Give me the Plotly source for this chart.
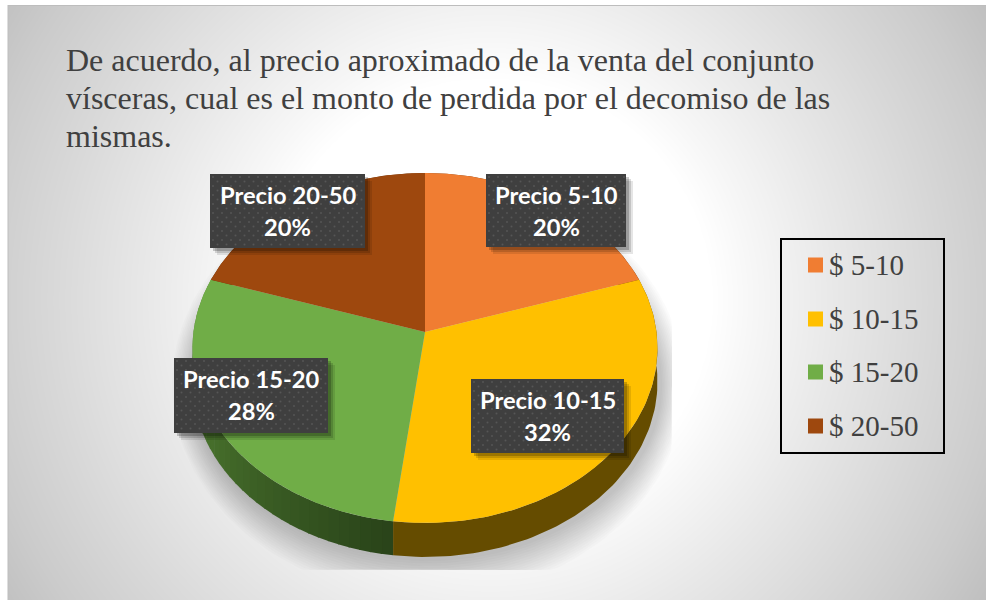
import numpy as np
import plotly.graph_objects as go

# ---- data ----
categories = ["$ 5-10", "$ 10-15", "$ 15-20", "$ 20-50"]
values = [20, 32, 28, 20]
slice_labels = ["Precio 5-10", "Precio 10-15", "Precio 15-20", "Precio 20-50"]
colors = ["#F07D32", "#FFC000", "#70AD47", "#9E480E"]
title_lines = [
    "De acuerdo, al precio aproximado de la venta del conjunto",
    "vísceras, cual es el monto de perdida por el decomiso de las",
    "mismas.",
]

# ---- layout constants ----
W, H = 986, 600
APEX = (425.0, 332.0)
A, B, K = 231.5, 173.5, 0.0914   # tilted disk projection
DEPTH = 34
label_boxes = [(486, 174, 626, 247), (471, 379, 624, 453), (174, 358, 328, 433), (210, 174, 365, 248)]
legend_box = (781, 239, 944, 453)
legend_y = [265, 319, 372, 426]
title_y = [60, 98, 136]
SERIF = "Liberation Serif"
SANS = "Lato"


def project(theta_deg):
    t = np.radians(theta_deg)
    u, v = np.sin(t), -np.cos(t)
    d = 1 - K * v
    return APEX[0] + A * u / d, APEX[1] + B * v / d


def poly(x, y, color, opacity=None):
    return go.Scatter(x=list(x), y=list(y), mode="lines", fill="toself", fillcolor=color,
                      line=dict(width=0), hoverinfo="skip", showlegend=False,
                      opacity=opacity)


fig = go.Figure()

# background: soft radial gradient
gx = np.arange(8, W + 1, 6.0)
gy = np.arange(5, H + 1, 6.0)
xx, yy = np.meshgrid(gx, gy)
rr = np.hypot(xx - 490, yy - 300)
grey = np.interp(rr, [0, 220, 260, 345, 440, 520, 580, 640], [255, 255, 247, 232, 216, 203, 191, 185])
fig.add_trace(go.Heatmap(x=gx, y=gy, z=grey, zmin=0, zmax=255, zsmooth="best", showscale=False,
                         colorscale=[[0, "#000000"], [1, "#ffffff"]], hoverinfo="skip"))

# soft shadow below the pie, clipped like the reference
tt = np.linspace(0, 2 * np.pi, 200)
for grow in np.linspace(30, -6, 15):
    sx = 428 + (238 + grow * 0.6) * np.cos(tt)
    sy = 385 + (182 + grow) * np.sin(tt)
    fig.add_trace(poly(np.clip(sx, 0, 672), np.minimum(sy, 570), "#000000", 0.015))

# slice boundaries from the values
fractions = np.array(values) / sum(values)
edges = np.concatenate([[0], np.cumsum(fractions) * 360])

# rim (side wall) of the disk
for i in [0, 3, 2, 1]:
    a0, a1 = edges[i], edges[i + 1]
    if categories[i] == "$ 15-20":
        n = 40
        cuts = np.linspace(a0, a1, n + 1)
        for j in range(n):
            f = j / (n - 1)
            c = "rgb(%d,%d,%d)" % (42 + f * 52, 68 + f * 78, 26 + f * 32)
            th = np.linspace(cuts[j], cuts[j + 1] + 0.3, 4)
            x, y = project(th)
            fig.add_trace(poly(np.r_[x, x[::-1]], np.r_[y, (y + DEPTH)[::-1]], c))
    else:
        th = np.linspace(a0, a1, 90)
        x, y = project(th)
        c = "#654C00" if i == 1 else "#6A3009"
        fig.add_trace(poly(np.r_[x, x[::-1]], np.r_[y, (y + DEPTH)[::-1]], c))

# top face of the disk
for i in range(len(values)):
    th = np.linspace(edges[i], edges[i + 1], 120)
    x, y = project(th)
    fig.add_trace(poly(np.r_[APEX[0], x, APEX[0]], np.r_[APEX[1], y, APEX[1]], colors[i]))

# data label boxes
annotations = []
for i, (x0, y0, x1, y1) in enumerate(label_boxes):
    for off, op in [(7, 0.10), (5, 0.14), (3, 0.2)]:
        fig.add_trace(poly([x0 + off, x1 + off, x1 + off, x0 + off, x0 + off],
                           [y0 + off, y0 + off, y1 + off, y1 + off, y0 + off], "#000000", op))
    fig.add_trace(poly([x0, x1, x1, x0, x0], [y0, y0, y1, y1, y0], "#3F3F3F"))
    dx, dy = [], []
    for r, yy_ in enumerate(np.arange(y0 + 3, y1 - 1, 4.5)):
        for xx_ in np.arange(x0 + 3 + (r % 2) * 4.5, x1 - 1, 9):
            dx.append(xx_)
            dy.append(yy_)
    fig.add_trace(go.Scatter(x=dx, y=dy, mode="markers", hoverinfo="skip", showlegend=False,
                             marker=dict(size=2, color="#565656", line=dict(width=0))))
    cx = (x0 + x1) / 2
    annotations.append(dict(x=cx, y=y0 + 21, text="<b>%s</b>" % slice_labels[i], showarrow=False,
                            font=dict(family=SANS, size=23.7, color="#FFFFFF"), xanchor="center", yanchor="middle"))
    annotations.append(dict(x=cx, y=y0 + 53, text="<b>%d%%</b>" % values[i], showarrow=False,
                            font=dict(family=SANS, size=23.7, color="#FFFFFF"), xanchor="center", yanchor="middle"))

# legend
lx0, ly0, lx1, ly1 = legend_box
fig.add_trace(go.Scatter(x=[815.5] * 4, y=legend_y, mode="markers", hoverinfo="skip", showlegend=False,
                         marker=dict(symbol="square", size=15, color=colors, line=dict(width=0))))
for name, y in zip(categories, legend_y):
    annotations.append(dict(x=827, y=y, text=name.replace("$", "&#36;"), showarrow=False, xanchor="left", yanchor="middle",
                            font=dict(family=SERIF, size=29, color="#404040")))

# title
for line, y in zip(title_lines, title_y):
    annotations.append(dict(x=63.5, y=y, text=line, showarrow=False, xanchor="left", yanchor="middle",
                            font=dict(family=SERIF, size=32, color="#404040")))

shapes = [
    dict(type="rect", x0=lx0, y0=ly0, x1=lx1, y1=ly1, line=dict(color="#000000", width=2), fillcolor="rgba(0,0,0,0)"),
    dict(type="rect", x0=0, y0=0, x1=8, y1=H, line=dict(width=0), fillcolor="#FFFFFF"),
    dict(type="rect", x0=0, y0=0, x1=W, y1=5, line=dict(width=0), fillcolor="#FFFFFF"),
    dict(type="line", x0=8, y0=5.5, x1=W, y1=5.5, line=dict(color="#BDBDBD", width=1)),
    dict(type="line", x0=8, y0=5, x1=8, y1=H, line=dict(color="#BDBDBD", width=1)),
]

fig.update_layout(
    width=W, height=H, margin=dict(l=0, r=0, t=0, b=0), showlegend=False,
    paper_bgcolor="#FFFFFF", plot_bgcolor="#FFFFFF",
    xaxis=dict(range=[0, W], visible=False, fixedrange=True),
    yaxis=dict(range=[H, 0], visible=False, fixedrange=True),
    annotations=annotations, shapes=shapes,
)
fig.write_html("out.html", config={"displayModeBar": False},
               post_script="document.body.style.margin='0';document.body.style.overflow='hidden';")
